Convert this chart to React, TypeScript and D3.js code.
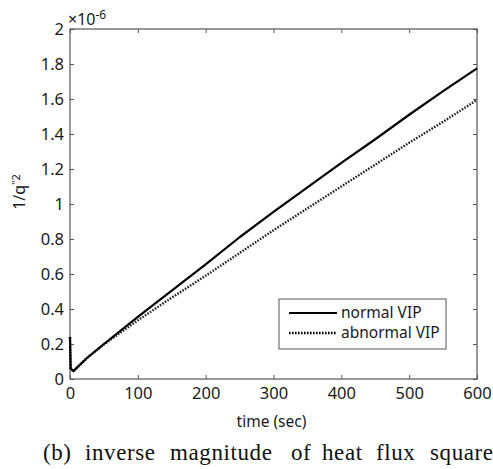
import React, { useEffect, useRef } from 'react';
import * as d3 from 'd3';

// time in seconds
const timeSec = [0, 1, 5, 25, 50, 100, 150, 200, 250, 300, 350, 400, 450, 500, 550, 600];
// 1/q''^2 in units of 1e-6
const normalVIP = [0.24, 0.06, 0.045, 0.12, 0.2, 0.355, 0.505, 0.655, 0.81, 0.955, 1.095, 1.235, 1.37, 1.51, 1.645, 1.775];
const abnormalVIP = [0.24, 0.06, 0.045, 0.12, 0.198, 0.335, 0.465, 0.59, 0.72, 0.85, 0.975, 1.1, 1.225, 1.35, 1.47, 1.595];
const xTicks = [0, 100, 200, 300, 400, 500, 600];
const yTicks = [0, 0.2, 0.4, 0.6, 0.8, 1, 1.2, 1.4, 1.6, 1.8, 2];
const captionWords = ['(b)', 'inverse', 'magnitude', 'of', 'heat', 'flux', 'square'];
const captionX = [43, 85, 170, 291, 322, 376, 430];

const App = () => {
  const ref = useRef<SVGSVGElement>(null);

  useEffect(() => {
    const svg = d3.select(ref.current);
    svg.selectAll('*').remove();

    const margin = { top: 29, right: 16, bottom: 90, left: 70 };
    const width = 493 - margin.left - margin.right;
    const height = 469 - margin.top - margin.bottom;
    const axisColor = '#555';
    const font = '"Noto Sans", "Open Sans", sans-serif';

    const x = d3.scaleLinear().domain([0, 600]).range([0, width]);
    const y = d3.scaleLinear().domain([0, 2]).range([height, 0]);

    const g = svg.append('g').attr('transform', `translate(${margin.left},${margin.top})`);

    // box
    g.append('rect')
      .attr('width', width)
      .attr('height', height)
      .attr('fill', 'none')
      .attr('stroke', axisColor)
      .attr('stroke-width', 1.2);

    // axes with inward ticks
    const styleAxis = (sel: any) => {
      sel.select('.domain').remove();
      sel.selectAll('.tick line').attr('stroke', axisColor).attr('stroke-width', 1);
      sel.selectAll('.tick text')
        .style('font-family', font)
        .style('font-size', '16.5px')
        .attr('fill', '#1a1a1a');
    };

    g.append('g')
      .attr('transform', `translate(0,${height})`)
      .call(d3.axisBottom(x).tickValues(xTicks).tickSizeInner(-4).tickSizeOuter(0).tickPadding(8).tickFormat(d3.format('d')))
      .call(styleAxis);
    g.append('g')
      .call(d3.axisTop(x).tickValues(xTicks).tickSizeInner(-4).tickSizeOuter(0).tickFormat(() => ''))
      .call(styleAxis);
    g.append('g')
      .call(d3.axisLeft(y).tickValues(yTicks).tickSizeInner(-4).tickSizeOuter(0).tickPadding(6).tickFormat(d3.format('~g')))
      .call(styleAxis);
    g.append('g')
      .attr('transform', `translate(${width},0)`)
      .call(d3.axisRight(y).tickValues(yTicks).tickSizeInner(-4).tickSizeOuter(0).tickFormat(() => ''))
      .call(styleAxis);

    // exponent
    const expo = g.append('text')
      .attr('x', -2)
      .attr('y', -4)
      .style('font-family', font)
      .style('font-size', '16px')
      .attr('fill', '#1a1a1a');
    expo.append('tspan').text('×10');
    expo.append('tspan').attr('dy', -6).style('font-size', '12px').text('-6');

    // lines
    const line = (vals: number[]) =>
      d3.line<number>()
        .x((d, i) => x(timeSec[i]))
        .y((d) => y(d))(vals);

    g.append('path')
      .attr('d', line(abnormalVIP))
      .attr('fill', 'none')
      .attr('stroke', '#222')
      .attr('stroke-width', 2.4)
      .attr('stroke-dasharray', '1.6,1.4');

    g.append('path')
      .attr('d', line(normalVIP))
      .attr('fill', 'none')
      .attr('stroke', '#000')
      .attr('stroke-width', 2.2)
      .attr('stroke-linejoin', 'round');

    // legend
    const lg = g.append('g').attr('transform', `translate(${279 - margin.left},${299 - margin.top})`);
    lg.append('rect')
      .attr('width', 167)
      .attr('height', 50)
      .attr('fill', 'white')
      .attr('stroke', axisColor)
      .attr('stroke-width', 1);
    const items = [
      { name: 'normal VIP', dash: null, w: 2.2 },
      { name: 'abnormal VIP', dash: '1.6,1.4', w: 2.4 },
    ];
    items.forEach((it, i) => {
      const yy = 14 + i * 20;
      lg.append('line')
        .attr('x1', 10).attr('x2', 58)
        .attr('y1', yy).attr('y2', yy)
        .attr('stroke', '#000')
        .attr('stroke-width', it.w)
        .attr('stroke-dasharray', it.dash);
      lg.append('text')
        .attr('x', 62)
        .attr('y', yy + 5)
        .style('font-family', font)
        .style('font-size', '15.5px')
        .attr('fill', '#1a1a1a')
        .text(it.name);
    });

    // axis labels
    svg.append('text')
      .attr('x', margin.left + width / 2 - 2)
      .attr('y', 427)
      .attr('text-anchor', 'middle')
      .style('font-family', font)
      .style('font-size', '15.5px')
      .attr('fill', '#1a1a1a')
      .text('time (sec)');

    const yl = svg.append('text')
      .attr('transform', `translate(25,192) rotate(-90)`)
      .attr('text-anchor', 'middle')
      .style('font-family', font)
      .style('font-size', '16px')
      .attr('fill', '#1a1a1a');
    yl.append('tspan').text('1/q');
    yl.append('tspan').attr('dy', -5).style('font-size', '11px').text('"2');

    // caption
    const cap = svg.append('text')
      .attr('y', 460)
      .style('font-family', '"Liberation Serif", "Times New Roman", serif')
      .style('font-size', '23px')
      .style('letter-spacing', '0.6px')
      .attr('fill', '#111');
    captionWords.forEach((w, i) => {
      cap.append('tspan').attr('x', captionX[i]).text(w);
    });
  }, []);

  return (
    <svg
      ref={ref}
      width={493}
      height={469}
      style={{ position: 'absolute', left: 0, top: 0, background: 'white' }}
    />
  );
};

export default App;
